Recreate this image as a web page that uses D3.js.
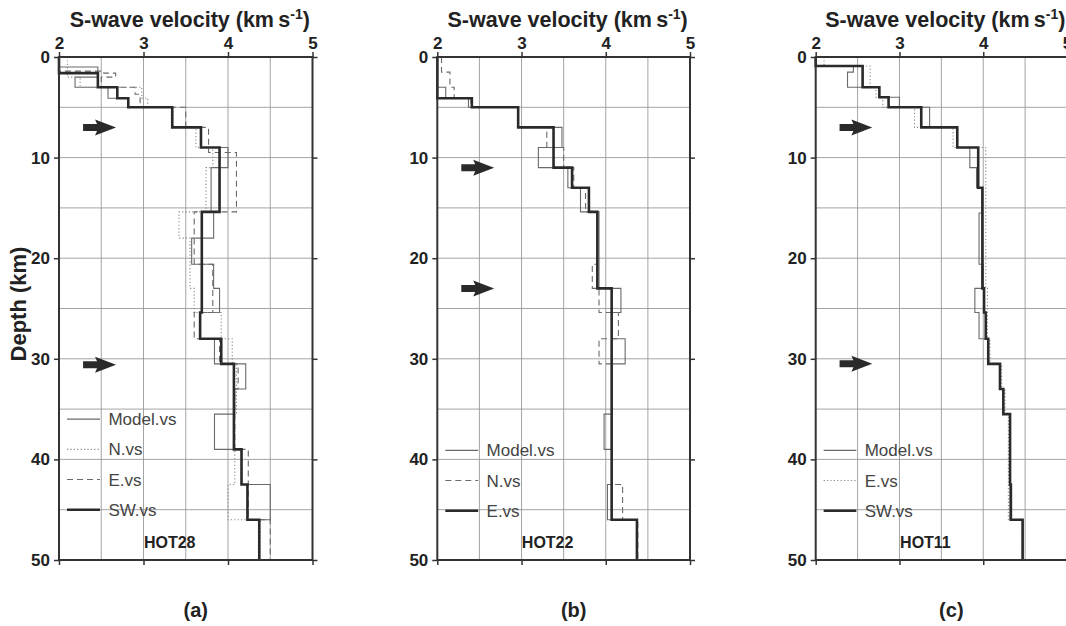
<!DOCTYPE html>
<html>
<head>
<meta charset="utf-8">
<script src="https://cdn.jsdelivr.net/npm/d3@7"></script>
<style>
  html, body { margin: 0; padding: 0; background: #fff; }
  svg { display: block; font-family: "Liberation Sans", Arial, Helvetica, sans-serif; }
</style>
</head>
<body>
<svg id="chart" width="1066" height="626"></svg>
<script>
// ---------------- DATA ----------------
const velocityTicks = [2, 3, 4, 5];
const depthTicks = [0, 10, 20, 30, 40, 50];
const velocityGrid = [2.5, 3, 3.5, 4, 4.5];
const depthGrid = [5, 10, 15, 20, 25, 30, 35, 40, 45];
const panelLetters = ["(a)", "(b)", "(c)"];
const stationNames = ["HOT28", "HOT22", "HOT11"];

// layers: [top depth (km), S-wave velocity (km/s)]
const hot28Model = [[0,2.0],[1.0,2.46],[2.0,2.19],[3.0,2.58],[4.1,2.82],[5.0,3.34],[7.0,3.68],[9.0,4.0],[11.0,3.8],[15.4,3.83],[18.0,3.57],[20.6,3.83],[23.0,3.9],[25.4,3.67],[28.0,3.84],[30.5,4.21],[33.0,4.08],[35.5,3.84],[39.0,4.16],[42.5,4.5],[46.0,4.37]];
const hot28N     = [[0,2.1],[2.0,2.25],[3.0,2.98],[4.1,3.05],[5.0,3.35],[7.0,3.62],[9.0,3.82],[11.0,3.74],[15.4,3.42],[18.0,3.55],[23.0,3.6],[25.4,3.92],[28.0,4.05],[30.5,4.1],[35.5,4.08],[42.5,4.0],[46.0,4.38]];
const hot28E     = [[0,2.0],[1.4,2.53],[1.6,2.67],[2.0,2.5],[3.0,2.9],[3.7,2.96],[5.0,3.5],[7.0,3.77],[9.5,4.1],[15.4,3.6],[20.6,3.82],[25.4,3.6],[28.0,3.9],[30.5,4.12],[33.0,4.08],[39.0,4.24],[46.0,4.5]];
const hot28SW    = [[0,2.0],[1.6,2.46],[3.0,2.69],[4.1,2.82],[5.0,3.34],[7.0,3.68],[9.0,3.9],[15.4,3.69],[25.4,3.67],[28.0,3.92],[30.5,4.07],[39.0,4.16],[42.5,4.23],[46.0,4.37]];

const hot22Model = [[0,2.0],[3.0,2.1],[4.1,2.37],[5.0,2.96],[7.0,3.48],[9.0,3.2],[11.0,3.55],[13.0,3.7],[15.4,3.92],[23.0,4.18],[25.4,4.07],[28.0,4.23],[30.5,4.07],[35.5,3.98],[39.0,4.07],[42.5,4.02],[46.0,4.37]];
const hot22N     = [[0,2.05],[1.5,2.15],[3.0,2.2],[4.1,2.4],[5.0,2.96],[7.0,3.3],[9.0,3.5],[11.0,3.62],[13.0,3.76],[15.4,3.9],[20.6,3.84],[23.0,3.92],[25.4,4.15],[28.0,3.92],[30.5,4.07],[42.5,4.2],[46.0,4.38]];
const hot22E     = [[0,2.0],[4.1,2.41],[5.0,2.96],[7.0,3.38],[11.0,3.6],[13.0,3.8],[15.4,3.9],[23.0,4.07],[46.0,4.37]];

const hot11Model = [[0,2.0],[0.9,2.45],[1.5,2.38],[3.0,2.76],[4.0,3.0],[5.0,3.36],[7.0,3.69],[9.0,3.84],[11.0,3.92],[13.0,3.99],[15.5,3.95],[20.6,4.0],[23.0,3.9],[25.4,3.95],[28.0,4.06],[30.5,4.2],[33.0,4.24],[35.5,4.32],[46.0,4.47]];
const hot11E     = [[0,2.1],[0.9,2.65],[3.0,2.72],[4.0,2.8],[5.0,3.18],[7.0,3.64],[9.0,4.03],[23.0,4.05],[28.0,4.08],[30.5,4.22],[33.0,4.26],[35.5,4.3],[46.0,4.48]];
const hot11SW    = [[0,2.0],[0.9,2.56],[3.0,2.76],[4.0,2.87],[5.0,3.26],[7.0,3.69],[9.0,3.94],[13.0,3.99],[23.0,4.01],[25.4,4.03],[28.0,4.06],[30.5,4.2],[33.0,4.24],[35.5,4.32],[42.5,4.33],[46.0,4.47]];

// arrow annotation depths (km)
const hot28Arrows = [7.0, 30.6];
const hot22Arrows = [11.0, 23.0];
const hot11Arrows = [7.0, 30.5];

// legend labels per panel
const hot28Legend = ["Model.vs", "N.vs", "E.vs", "SW.vs"];
const hot22Legend = ["Model.vs", "N.vs", "E.vs"];
const hot11Legend = ["Model.vs", "E.vs", "SW.vs"];

// ---------------- STYLES ----------------
const styles = {
  model:  { stroke: "#6a6a6a", width: 1.1, dash: null },
  dotted: { stroke: "#8a8a8a", width: 1.1, dash: "1.2,2.2" },
  dashed: { stroke: "#6a6a6a", width: 1.1, dash: "6,4" },
  thick:  { stroke: "#2a2a2a", width: 2.6, dash: null }
};

const panels = [
  { x0: 59, x1: 312.5, series: [[hot28Model,"model"],[hot28N,"dotted"],[hot28E,"dashed"],[hot28SW,"thick"]],
    legend: hot28Legend, legendStyles: ["model","dotted","dashed","thick"], legendTop: 36.0,
    arrows: hot28Arrows, yLabel: true },
  { x0: 437.3, x1: 690, series: [[hot22Model,"model"],[hot22N,"dashed"],[hot22E,"thick"]],
    legend: hot22Legend, legendStyles: ["model","dashed","thick"], legendTop: 39.1,
    arrows: hot22Arrows, yLabel: false },
  { x0: 815.7, x1: 1067, series: [[hot11Model,"model"],[hot11E,"dotted"],[hot11SW,"thick"]],
    legend: hot11Legend, legendStyles: ["model","dotted","thick"], legendTop: 39.1,
    arrows: hot11Arrows, yLabel: false }
];

const svg = d3.select("#chart");
const yTop = 57, yBot = 560;

panels.forEach((p, i) => {
  const x = d3.scaleLinear().domain([2, 5]).range([p.x0, p.x1]);
  const y = d3.scaleLinear().domain([0, 50]).range([yTop, yBot]);
  const g = svg.append("g");

  // grid
  g.selectAll(".vg").data(velocityGrid).join("line")
    .attr("x1", d => x(d)).attr("x2", d => x(d)).attr("y1", yTop).attr("y2", yBot)
    .attr("stroke", "#9a9a9a").attr("stroke-width", 0.9);
  g.selectAll(".hg").data(depthGrid).join("line")
    .attr("y1", d => y(d)).attr("y2", d => y(d)).attr("x1", p.x0).attr("x2", p.x1)
    .attr("stroke", "#9a9a9a").attr("stroke-width", 0.9);

  // axes (ticks outward on all sides)
  const tickLen = 5;
  g.append("g").attr("transform", `translate(0,${yTop})`)
    .call(d3.axisTop(x).tickValues(velocityTicks).tickSize(tickLen).tickPadding(3).tickFormat(d3.format("d")))
    .call(a => a.select(".domain").remove())
    .call(a => a.selectAll("line").attr("stroke", "#333").attr("stroke-width", 1.5))
    .call(a => a.selectAll("text").attr("font-size", 17).attr("font-weight", "bold").attr("fill", "#222"));
  g.append("g").attr("transform", `translate(0,${yBot})`)
    .call(d3.axisBottom(x).tickValues(velocityTicks).tickSize(tickLen).tickFormat(""))
    .call(a => a.select(".domain").remove())
    .call(a => a.selectAll("line").attr("stroke", "#333").attr("stroke-width", 1.5));
  g.append("g").attr("transform", `translate(${p.x0},0)`)
    .call(d3.axisLeft(y).tickValues(depthTicks).tickSize(tickLen).tickPadding(4).tickFormat(d3.format("d")))
    .call(a => a.select(".domain").remove())
    .call(a => a.selectAll("line").attr("stroke", "#333").attr("stroke-width", 1.5))
    .call(a => a.selectAll("text").attr("font-size", 17).attr("font-weight", "bold").attr("fill", "#222"));
  g.append("g").attr("transform", `translate(${p.x1},0)`)
    .call(d3.axisRight(y).tickValues(depthTicks).tickSize(tickLen).tickFormat(""))
    .call(a => a.select(".domain").remove())
    .call(a => a.selectAll("line").attr("stroke", "#333").attr("stroke-width", 1.5));

  // profiles
  const line = d3.line().x(d => x(d[1])).y(d => y(d[0])).curve(d3.curveStepBefore);
  p.series.forEach(([layers, sty]) => {
    const s = styles[sty];
    const pts = layers.concat([[50, layers[layers.length - 1][1]]]);
    g.append("path").attr("d", line(pts)).attr("fill", "none")
      .attr("stroke", s.stroke).attr("stroke-width", s.width)
      .attr("stroke-dasharray", s.dash);
  });

  // frame
  g.append("rect").attr("x", p.x0).attr("y", yTop).attr("width", p.x1 - p.x0).attr("height", yBot - yTop)
    .attr("fill", "none").attr("stroke", "#333").attr("stroke-width", 2);

  // arrows
  p.arrows.forEach(dep => {
    const cy = y(dep), xa = x(2.285), xh = x(2.45), xb = x(2.675);
    g.append("path")
      .attr("d", `M${xa},${cy - 3.5}L${xh},${cy - 3.5}L${xh - 2},${cy - 8}L${xb},${cy}L${xh - 2},${cy + 8}L${xh},${cy + 3.5}L${xa},${cy + 3.5}Z`)
      .attr("fill", "#2a2a2a");
  });

  // legend
  p.legend.forEach((lab, k) => {
    const dep = p.legendTop + k * 3.0;
    const s = styles[p.legendStyles[k]];
    g.append("line").attr("x1", x(2.095)).attr("x2", x(2.485)).attr("y1", y(dep)).attr("y2", y(dep))
      .attr("stroke", s.stroke).attr("stroke-width", s.width).attr("stroke-dasharray", s.dash);
    g.append("text").attr("x", x(2.585)).attr("y", y(dep)).attr("dy", "0.36em")
      .attr("font-size", 17).attr("fill", "#444").text(lab);
  });

  // station name
  g.append("text").attr("x", x(3.31)).attr("y", y(48.2)).attr("dy", "0.36em")
    .attr("text-anchor", "middle").attr("font-size", 16).attr("font-weight", "bold").attr("fill", "#222")
    .text(stationNames[i]);

  // title
  const t = g.append("text").attr("x", (p.x0 + p.x1) / 2 + 4).attr("y", 27)
    .attr("text-anchor", "middle").attr("font-size", 21.5).attr("font-weight", "bold").attr("fill", "#222");
  t.append("tspan").text("S-wave velocity (km\u2009s");
  t.append("tspan").attr("font-size", 14).attr("dy", -8).text("-1");
  t.append("tspan").attr("dy", 8).text(")");

  // panel letter
  g.append("text").attr("x", (p.x0 + p.x1) / 2 + 10).attr("y", 617)
    .attr("text-anchor", "middle").attr("font-size", 20).attr("font-weight", "bold").attr("fill", "#222")
    .text(panelLetters[i]);

  if (p.yLabel) {
    g.append("text").attr("transform", `translate(26,${304}) rotate(-90)`)
      .attr("text-anchor", "middle").attr("font-size", 22).attr("font-weight", "bold").attr("fill", "#222")
      .text("Depth (km)");
  }
});
</script>
</body>
</html>
